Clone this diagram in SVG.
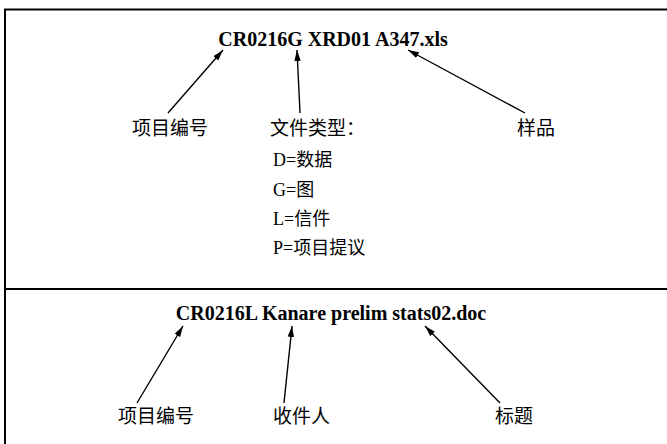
<svg xmlns="http://www.w3.org/2000/svg" width="667" height="444" viewBox="0 0 667 444">
<style>
.frame{fill:none;stroke:#000;stroke-width:2}
.title{font-family:"Liberation Serif","Times New Roman",serif;font-weight:bold;font-size:20px;fill:#000}
.cn{font-family:"Noto Sans CJK SC","Noto Sans",sans-serif;font-size:19px;fill:#000}
.li{font-family:"Liberation Serif","Noto Sans CJK SC",serif;font-size:18px;fill:#000}
.li tspan.c{font-family:"Noto Sans CJK SC",sans-serif}
.arrow{fill:none;stroke:#000;stroke-width:1.4;marker-end:url(#ah)}
</style>
<defs>
<marker id="ah" markerUnits="userSpaceOnUse" markerWidth="12" markerHeight="8" refX="11" refY="4" orient="auto">
<path d="M0,0.8 L11,4 L0,7.2 Z" fill="#000"/>
</marker>
</defs>
<g id="frame">
<path class="frame" d="M5,444 V9.5 H667"/>
<line class="frame" x1="5" y1="289" x2="667" y2="289"/>
</g>
<g id="title1"><text class="title" x="333" y="46" text-anchor="middle">CR0216G XRD01 A347.xls</text></g>
<g id="label-project1"><text class="cn" x="132" y="135">项目编号</text></g>
<g id="label-type"><text class="cn" x="270" y="135">文件类型：</text>
<text class="li" x="273" y="166">D=<tspan class="c">数据</tspan></text>
<text class="li" x="273" y="195.5">G=<tspan class="c">图</tspan></text>
<text class="li" x="273" y="225">L=<tspan class="c">信件</tspan></text>
<text class="li" x="273" y="254">P=<tspan class="c">项目提议</tspan></text>
</g>
<g id="label-sample"><text class="cn" x="517" y="135">样品</text></g>
<g id="title2"><text class="title" x="331" y="320" text-anchor="middle">CR0216L Kanare prelim stats02.doc</text></g>
<g id="label-project2"><text class="cn" x="118" y="423">项目编号</text></g>
<g id="label-recipient"><text class="cn" x="273" y="423">收件人</text></g>
<g id="label-caption"><text class="cn" x="495" y="423">标题</text></g>
<g id="connectors">
<line class="arrow" x1="168" y1="113" x2="223" y2="50"/>
<line class="arrow" x1="300" y1="113" x2="297" y2="50"/>
<line class="arrow" x1="525" y1="113" x2="408" y2="50"/>
<line class="arrow" x1="137" y1="403" x2="183" y2="326"/>
<line class="arrow" x1="284" y1="403" x2="292" y2="326"/>
<line class="arrow" x1="500" y1="403" x2="425" y2="326"/>
</g>
</svg>
